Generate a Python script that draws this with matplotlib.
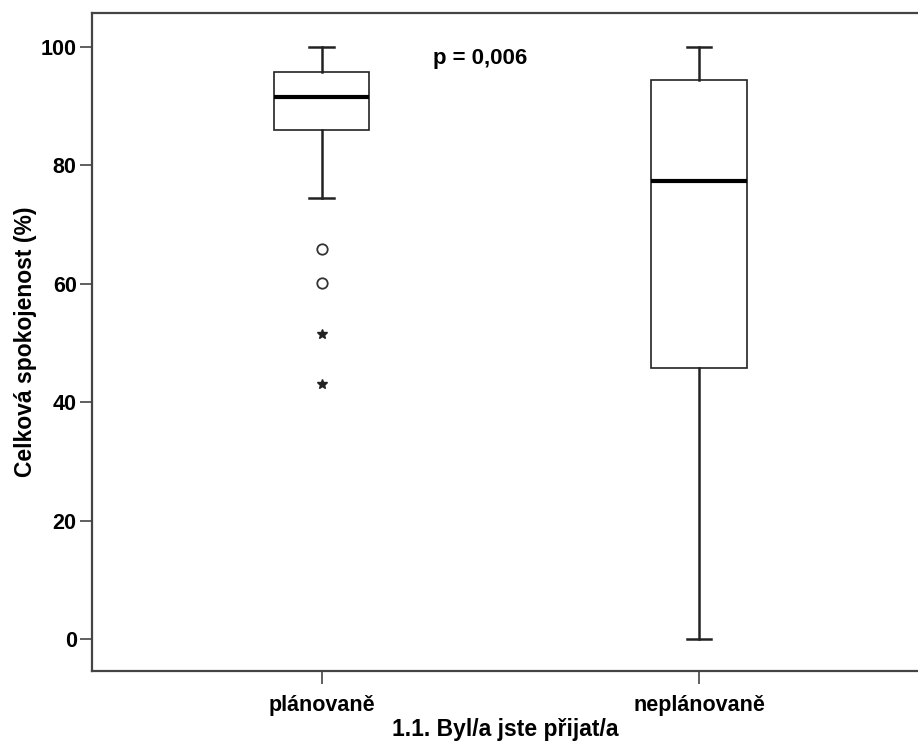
import matplotlib
matplotlib.use('Agg')
import matplotlib.pyplot as plt

plt.rcParams['font.family'] = ['Liberation Sans', 'DejaVu Sans']

groups = ['plánovaně', 'neplánovaně']
whislo = [74.5, 0.0]
q1 = [86.0, 45.8]
med = [91.6, 77.3]
q3 = [95.8, 94.4]
whishi = [100.0, 100.0]
outliers = [65.9, 60.1]      # mild outliers (circles)
extremes = [51.5, 43.1]      # extreme values (stars)
p_text = 'p = 0,006'

stats = []
for i in range(len(groups)):
    stats.append(dict(label=groups[i], whislo=whislo[i], q1=q1[i], med=med[i],
                      q3=q3[i], whishi=whishi[i], fliers=[]))

fig = plt.figure(figsize=(9.18, 7.45), dpi=100)
ax = fig.add_axes([0.1002, 0.0993, 0.8998, 0.8833])

ax.bxp(stats, positions=[0, 1], widths=0.252, capwidths=0.064, showfliers=False,
       patch_artist=True,
       boxprops=dict(facecolor='white', edgecolor='#222222', linewidth=1.2),
       medianprops=dict(color='black', linewidth=3),
       whiskerprops=dict(color='#222222', linewidth=1.8),
       capprops=dict(color='#222222', linewidth=1.8))

ax.plot([0] * len(outliers), outliers, linestyle='none', marker='o', markersize=7.5,
        markerfacecolor='white', markeredgecolor='#333333', markeredgewidth=1.3)
ax.plot([0] * len(extremes), extremes, linestyle='none', marker='*', markersize=7,
        color='#222222')

ax.text(0.42, 98.1, p_text, ha='center', va='center', fontsize=16, fontweight='bold')

ax.set_xlim(-0.608, 1.58)
ax.set_ylim(-5.4, 105.75)
ax.set_yticks([0, 20, 40, 60, 80, 100])
ax.set_xticks([0, 1])
ax.set_xticklabels(groups)

for s in ['top', 'left', 'bottom']:
    ax.spines[s].set_color('#444444')
    ax.spines[s].set_linewidth(1.6)
ax.spines['right'].set_visible(False)

ax.tick_params(direction='out', length=9, width=1.2, color='#444444',
               labelsize=15.5, pad=2)
ax.tick_params(axis='x', pad=8)
for lab in ax.get_xticklabels() + ax.get_yticklabels():
    lab.set_fontweight('bold')

ax.set_ylabel('Celková spokojenost (%)', fontsize=16.5, fontweight='bold', labelpad=3)
ax.set_xlabel('1.1. Byl/a jste přijat/a', fontsize=16.5, fontweight='bold', labelpad=2)

fig.savefig('out.png', dpi=100)
